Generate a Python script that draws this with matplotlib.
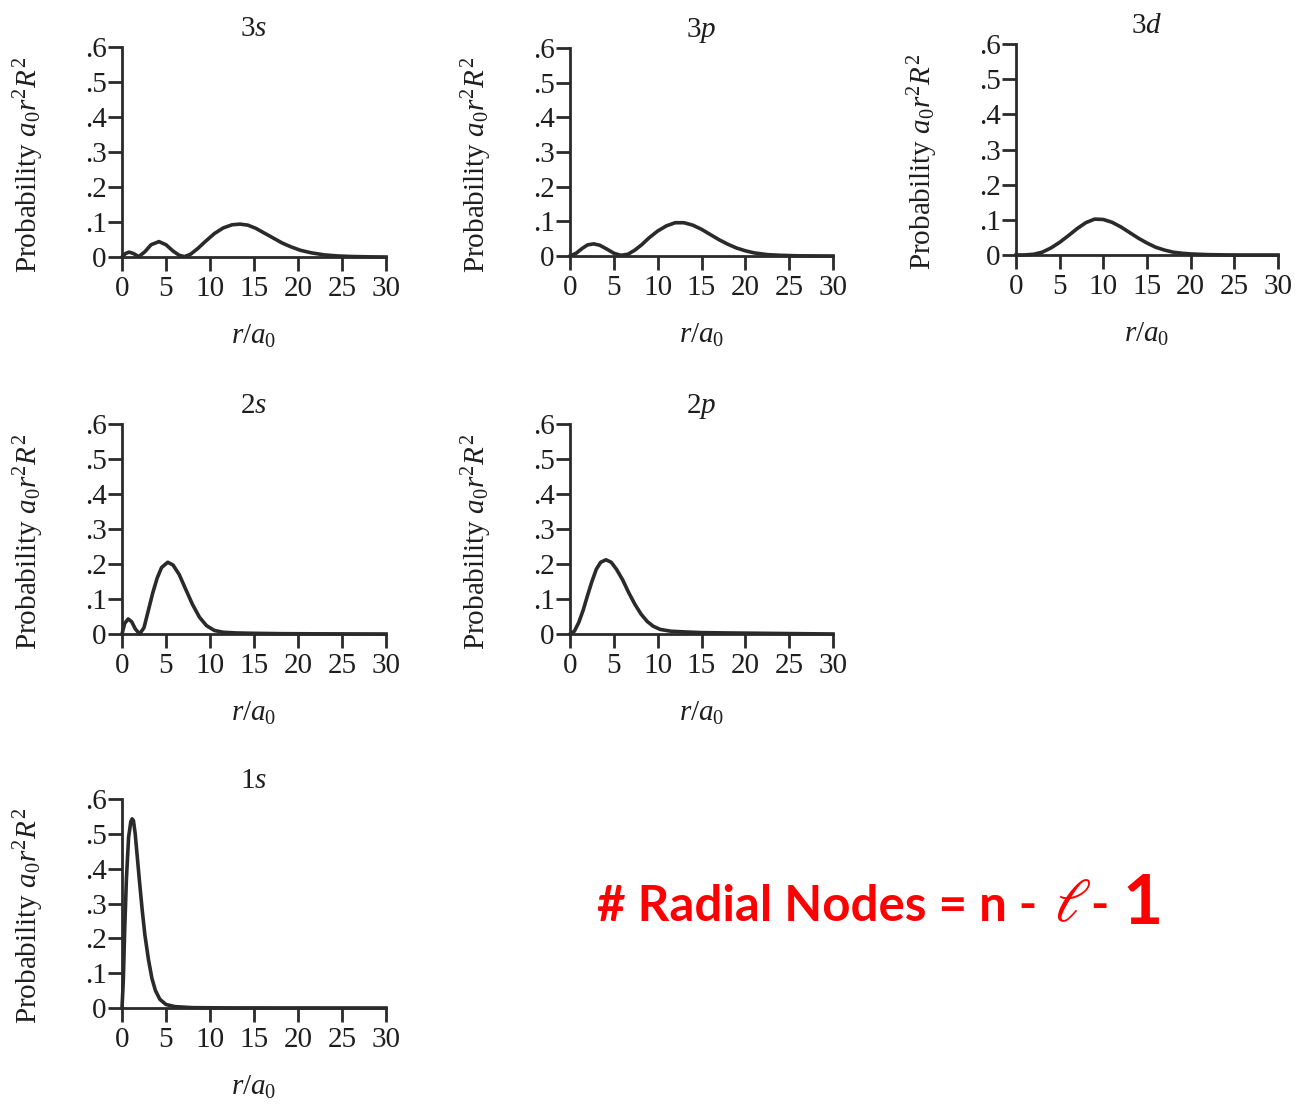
import matplotlib
matplotlib.use("Agg")
import matplotlib.pyplot as plt

# ---------------- data ----------------
xticks = [0, 5, 10, 15, 20, 25, 30]
xtick_labels = ["0", "5", "10", "15", "20", "25", "30"]
yticks = [0, 0.1, 0.2, 0.3, 0.4, 0.5, 0.6]
ytick_labels = ["0", ".1", ".2", ".3", ".4", ".5", ".6"]

r_3s = [0, 0.4, 0.8, 1.3, 1.9, 2.6, 3.3, 4.2, 5.0, 5.8, 6.5, 7.1, 7.8, 8.6, 9.5,
        10.5, 11.5, 12.5, 13.4, 14.3, 15.2, 16.2, 17.2, 18.2, 19.2, 20.3, 21.5,
        23, 24.5, 26, 28, 30]
p_3s = [0, 0.010, 0.014, 0.010, 0.001, 0.015, 0.035, 0.044, 0.035, 0.017, 0.005,
        0.001, 0.008, 0.024, 0.045, 0.067, 0.083, 0.092, 0.094, 0.091, 0.082,
        0.068, 0.054, 0.040, 0.029, 0.019, 0.012, 0.006, 0.003, 0.0015, 0.0005, 0]

r_3p = [0, 0.7, 1.4, 2.0, 2.7, 3.4, 4.2, 5.0, 5.8, 6.6, 7.4, 8.2, 9.0, 10.0, 11.0,
        12.0, 13.0, 14.0, 15.0, 16.0, 17.0, 18.0, 19.0, 20.0, 21.0, 22.5, 24, 26, 30]
p_3p = [0, 0.008, 0.022, 0.032, 0.035, 0.031, 0.020, 0.008, 0.002, 0.005, 0.017,
        0.033, 0.052, 0.072, 0.087, 0.096, 0.096, 0.089, 0.077, 0.062, 0.047,
        0.034, 0.023, 0.015, 0.009, 0.004, 0.002, 0.0005, 0]

r_3d = [0, 1, 2, 3, 4, 5, 6, 7, 8, 9, 10, 11, 12, 13, 14, 15, 16, 17, 18, 19, 20,
        22, 24, 26, 30]
p_3d = [0, 0.0002, 0.002, 0.008, 0.020, 0.036, 0.055, 0.075, 0.092, 0.102, 0.101,
        0.093, 0.080, 0.064, 0.048, 0.034, 0.022, 0.014, 0.008, 0.005, 0.003,
        0.001, 0.0003, 0, 0]

r_2s = [0, 0.3, 0.7, 1.1, 1.5, 2.0, 2.5, 3.0, 3.5, 4.0, 4.5, 5.2, 5.8, 6.5, 7.2,
        8.0, 8.8, 9.6, 10.5, 11.5, 13, 15, 18, 22, 30]
p_2s = [0, 0.030, 0.043, 0.035, 0.015, 0.0, 0.018, 0.068, 0.118, 0.160, 0.190,
        0.205, 0.197, 0.170, 0.130, 0.085, 0.048, 0.024, 0.010, 0.005, 0.003,
        0.002, 0.001, 0.0005, 0]

r_2p = [0, 0.5, 1.0, 1.5, 2.0, 2.5, 3.0, 3.5, 4.1, 4.7, 5.3, 6.0, 6.7, 7.4, 8.1,
        8.8, 9.5, 10.3, 11.5, 13, 15, 18, 22, 26, 30]
p_2p = [0, 0.008, 0.033, 0.068, 0.110, 0.150, 0.185, 0.205, 0.212, 0.205, 0.185,
        0.155, 0.118, 0.085, 0.057, 0.036, 0.022, 0.013, 0.008, 0.006, 0.004,
        0.003, 0.002, 0.001, 0]

r_1s = [0, 0.15, 0.3, 0.5, 0.75, 1.0, 1.15, 1.3, 1.5, 1.75, 2.0, 2.3, 2.6, 3.0,
        3.4, 3.8, 4.3, 5.0, 6, 8, 12, 30]
p_1s = [0, 0.08, 0.22, 0.37, 0.49, 0.535, 0.543, 0.538, 0.50, 0.43, 0.36, 0.28,
        0.21, 0.14, 0.085, 0.05, 0.025, 0.01, 0.004, 0.001, 0.0003, 0]

titles = ["3$s$", "3$p$", "3$d$", "2$s$", "2$p$", "1$s$"]
series = [(r_3s, p_3s), (r_3p, p_3p), (r_3d, p_3d),
          (r_2s, p_2s), (r_2p, p_2p), (r_1s, p_1s)]

# ---------------- styling ----------------
plt.rcParams["font.family"] = ["Liberation Serif", "DejaVu Serif"]
plt.rcParams["mathtext.fontset"] = "custom"
plt.rcParams["mathtext.rm"] = "Liberation Serif"
plt.rcParams["mathtext.it"] = "Liberation Serif:italic"

W, H = 1298, 1104
fig = plt.figure(figsize=(W / 100, H / 100), dpi=100)

# axes boxes in pixel coords: (left, top, right, bottom)
boxes = [(122, 47, 386, 257), (570, 48, 833, 256), (1016, 44, 1278, 255),
         (122, 424, 386, 634), (570, 424, 833, 634), (122, 799, 386, 1008)]

ink = "#2a2a2a"
txt = "#1e1e1e"
fs = 21
for (l, t, rr, b), title, (rx, py) in zip(boxes, titles, series):
    ax = fig.add_axes([l / W, 1 - b / H, (rr - l) / W, (b - t) / H])
    ax.plot(rx, py, color=ink, lw=2.6, solid_joinstyle="round", clip_on=False)
    ax.set_xlim(0, 30)
    ax.set_ylim(0, 0.6)
    for s in ("top", "right"):
        ax.spines[s].set_visible(False)
    for s in ("left", "bottom"):
        ax.spines[s].set_linewidth(2.0)
        ax.spines[s].set_color(ink)
    ax.set_xticks(xticks)
    ax.set_xticklabels(xtick_labels)
    ax.set_yticks(yticks)
    ax.set_yticklabels(ytick_labels)
    ax.tick_params(direction="out", length=10, width=2.0, color=ink,
                   labelsize=fs, labelcolor=txt)
    ax.tick_params(axis="x", pad=4)
    ax.tick_params(axis="y", pad=1)
    ax.set_title(title, fontsize=fs, pad=8, color=txt)
    ax.set_xlabel("$r/a_0$", fontsize=fs, labelpad=15, color=txt)
    ax.set_ylabel("Probability $a_0r^2R^2$", fontsize=fs, color=txt)
    ax.yaxis.set_label_coords(-76 / (rr - l), 0.44)

# ---------------- red annotation ----------------
red = "#ff0000"
base = 1 - 921 / H
fig.text(597 / W, base, "# Radial Nodes = n -", color=red, fontsize=35.5,
         fontweight="bold", family=["Lato", "DejaVu Sans"], va="baseline", ha="left")
fig.text(1054 / W, base, r"$\ell$", color=red, fontsize=44,
         math_fontfamily="stix", va="baseline", ha="left")
fig.text(1090 / W, base, "-", color=red, fontsize=35.5, fontweight="bold",
         family=["Lato", "DejaVu Sans"], va="baseline", ha="left")
fig.text(1122 / W, base - 0.003, "1", color=red, fontsize=50, fontweight="bold",
         family=["Lato", "DejaVu Sans"], va="baseline", ha="left")

fig.savefig("out.png", dpi=100)
